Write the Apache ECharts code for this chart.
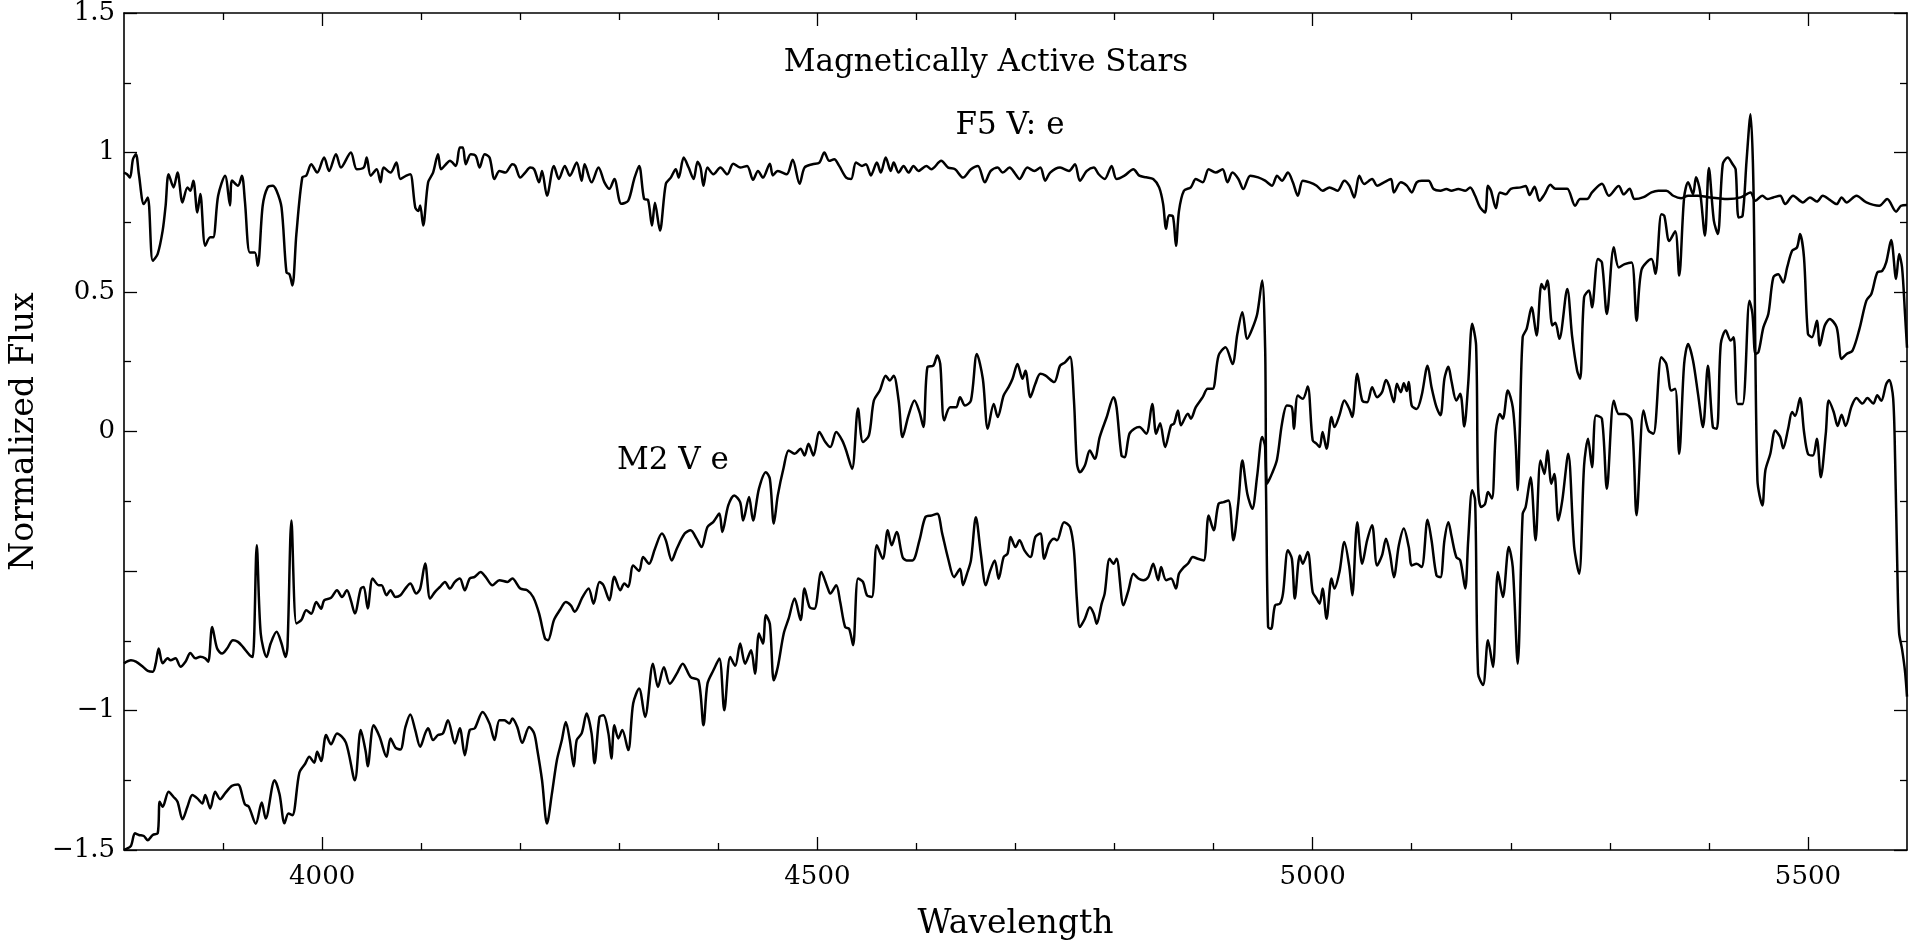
<!DOCTYPE html>
<html>
<head>
<meta charset="utf-8">
<script src="https://cdn.jsdelivr.net/npm/echarts@6/dist/echarts.min.js"></script>
<style>
html,body{margin:0;padding:0;background:#fff;}
#chart{width:1915px;height:949px;}
</style>
</head>
<body>
<div id="chart"></div>
<script>
// ---------- DATA ----------
const f5Wave = [3800,3803,3806,3809,3812,3815,3820,3824,3829,3834,3839,3842,3845,3850,3854,3859,3864,3867,3870,3874,3877,3882,3887,3890,3895,3902,3907,3909,3915,3919,3922,3927,3932,3935,3940,3945,3950,3954,3959,3964,3967,3970,3974,3980,3984,3989,3995,4002,4007,4014,4019,4029,4035,4042,4045,4049,4055,4059,4062,4069,4075,4079,4085,4089,4094,4097,4099,4102,4107,4112,4117,4120,4125,4129,4135,4139,4142,4145,4150,4155,4159,4164,4169,4174,4179,4185,4192,4195,4200,4205,4210,4214,4219,4222,4227,4234,4239,4245,4250,4257,4262,4265,4272,4279,4285,4290,4295,4302,4309,4315,4320,4325,4329,4333,4336,4341,4347,4352,4357,4360,4365,4370,4375,4379,4382,4385,4389,4395,4402,4409,4415,4422,4429,4435,4440,4445,4452,4455,4460,4469,4475,4482,4487,4495,4502,4507,4512,4517,4522,4529,4534,4539,4545,4549,4554,4560,4564,4569,4574,4577,4582,4587,4592,4597,4602,4610,4615,4625,4632,4639,4647,4655,4662,4669,4675,4682,4687,4694,4700,4704,4712,4719,4725,4730,4735,4745,4754,4760,4765,4772,4779,4784,4790,4797,4802,4810,4819,4825,4832,4839,4845,4849,4852,4855,4859,4862,4865,4870,4877,4882,4889,4895,4902,4909,4914,4919,4925,4930,4937,4945,4952,4959,4964,4969,4975,4980,4985,4990,4997,5004,5010,5017,5025,5032,5037,5042,5047,5052,5060,5065,5072,5079,5082,5089,5095,5100,5105,5110,5117,5122,5129,5135,5140,5147,5154,5159,5164,5169,5174,5177,5180,5185,5189,5195,5200,5210,5215,5219,5224,5229,5234,5240,5245,5252,5257,5265,5270,5277,5282,5292,5299,5309,5314,5320,5325,5334,5342,5349,5357,5364,5372,5379,5389,5399,5409,5419,5432,5442,5447,5454,5459,5465,5472,5477,5485,5495,5502,5509,5515,5522,5529,5534,5539,5549,5559,5572,5580,5589,5594,5600];
const f5Flux = [0.928,0.922,0.91,0.976,0.994,0.922,0.815,0.839,0.612,0.637,0.72,0.81,0.922,0.875,0.928,0.821,0.875,0.863,0.899,0.785,0.851,0.666,0.696,0.696,0.845,0.917,0.81,0.9,0.881,0.917,0.827,0.642,0.642,0.594,0.81,0.875,0.881,0.863,0.803,0.57,0.564,0.523,0.708,0.911,0.917,0.958,0.928,0.982,0.934,0.994,0.946,1.0,0.94,0.946,0.982,0.917,0.94,0.893,0.946,0.928,0.964,0.905,0.917,0.922,0.803,0.79,0.81,0.738,0.893,0.928,0.994,0.94,0.958,0.97,0.952,1.018,1.018,0.958,0.994,0.988,0.946,0.994,0.982,0.905,0.934,0.928,0.958,0.952,0.91,0.928,0.946,0.94,0.893,0.934,0.845,0.952,0.905,0.952,0.917,0.964,0.899,0.958,0.893,0.946,0.893,0.87,0.905,0.816,0.827,0.905,0.952,0.834,0.83,0.738,0.82,0.72,0.888,0.91,0.94,0.91,0.982,0.946,0.905,0.967,0.946,0.881,0.946,0.922,0.946,0.922,0.96,0.946,0.952,0.902,0.934,0.91,0.96,0.918,0.934,0.922,0.974,0.888,0.946,0.958,0.964,1.0,0.97,0.976,0.952,0.91,0.905,0.964,0.952,0.958,0.918,0.964,0.928,0.982,0.934,0.964,0.928,0.952,0.928,0.952,0.934,0.952,0.94,0.97,0.946,0.94,0.91,0.94,0.952,0.893,0.934,0.946,0.928,0.946,0.922,0.905,0.946,0.934,0.946,0.899,0.928,0.946,0.934,0.958,0.899,0.934,0.946,0.922,0.905,0.952,0.905,0.917,0.94,0.917,0.911,0.905,0.875,0.816,0.727,0.775,0.77,0.666,0.79,0.863,0.875,0.905,0.893,0.94,0.928,0.94,0.893,0.928,0.905,0.869,0.917,0.911,0.899,0.881,0.917,0.899,0.928,0.893,0.845,0.899,0.893,0.881,0.863,0.875,0.863,0.899,0.881,0.839,0.917,0.887,0.905,0.881,0.893,0.905,0.857,0.893,0.881,0.857,0.893,0.899,0.899,0.869,0.863,0.869,0.863,0.869,0.863,0.875,0.845,0.803,0.785,0.881,0.863,0.8,0.857,0.85,0.87,0.875,0.88,0.848,0.877,0.827,0.85,0.884,0.87,0.87,0.87,0.809,0.833,0.833,0.857,0.888,0.845,0.88,0.85,0.87,0.833,0.84,0.857,0.863,0.863,0.845,0.836,0.845,0.845,0.84,0.836,0.833,0.839,0.857,0.827,0.845,0.833,0.839,0.845,0.815,0.845,0.821,0.839,0.824,0.845,0.83,0.815,0.839,0.821,0.845,0.821,0.809,0.833,0.788,0.809,0.812];

const m2Wave = [3800,3807,3812,3819,3824,3829,3832,3835,3839,3844,3847,3852,3857,3862,3867,3872,3877,3882,3885,3889,3894,3899,3904,3910,3915,3920,3927,3930,3934,3938,3944,3948,3954,3959,3963,3965,3969,3974,3979,3984,3989,3994,3999,4002,4009,4015,4020,4025,4029,4033,4039,4042,4046,4051,4057,4060,4065,4069,4074,4079,4084,4089,4095,4099,4104,4109,4114,4119,4124,4129,4134,4139,4144,4149,4154,4160,4165,4172,4179,4187,4192,4200,4207,4213,4219,4225,4228,4234,4240,4246,4251,4255,4263,4269,4274,4280,4284,4290,4295,4301,4305,4309,4314,4320,4324,4330,4336,4343,4347,4353,4358,4366,4372,4378,4383,4389,4395,4401,4404,4410,4416,4422,4425,4431,4435,4441,4448,4452,4456,4460,4466,4471,4477,4483,4487,4491,4496,4502,4508,4513,4519,4525,4529,4535,4541,4546,4552,4557,4563,4569,4573,4577,4582,4586,4592,4598,4603,4607,4611,4617,4621,4624,4628,4634,4640,4644,4649,4655,4661,4667,4672,4678,4682,4688,4693,4697,4702,4707,4710,4715,4720,4725,4730,4739,4745,4750,4755,4759,4762,4765,4770,4775,4780,4785,4792,4799,4802,4807,4810,4815,4820,4825,4832,4838,4842,4846,4851,4857,4860,4864,4867,4874,4877,4882,4889,4894,4899,4905,4912,4919,4924,4929,4934,4939,4944,4949,4952,4954,4959,4964,4969,4974,4979,4981,4985,4990,4995,5000,5004,5007,5010,5014,5019,5022,5027,5032,5037,5040,5045,5050,5055,5060,5065,5070,5074,5077,5082,5085,5089,5092,5095,5097,5100,5105,5110,5116,5120,5125,5129,5133,5137,5140,5145,5149,5153,5157,5161,5165,5167,5170,5174,5177,5181,5185,5189,5192,5197,5202,5205,5207,5209,5212,5216,5221,5226,5231,5234,5237,5242,5245,5249,5257,5262,5267,5270,5274,5279,5282,5288,5292,5297,5304,5309,5315,5322,5327,5332,5342,5346,5352,5355,5360,5366,5370,5375,5379,5384,5387,5391,5396,5400,5405,5409,5414,5419,5424,5427,5430,5434,5438,5442,5445,5449,5454,5457,5462,5467,5472,5475,5480,5484,5487,5492,5496,5500,5505,5509,5513,5518,5521,5526,5530,5534,5538,5544,5549,5555,5560,5566,5570,5574,5579,5582,5586,5588,5590,5592,5595,5598,5600];
const m2Flux = [-0.831,-0.82,-0.825,-0.843,-0.858,-0.861,-0.831,-0.778,-0.831,-0.813,-0.82,-0.813,-0.843,-0.825,-0.794,-0.813,-0.807,-0.813,-0.825,-0.701,-0.778,-0.796,-0.778,-0.748,-0.754,-0.772,-0.802,-0.808,-0.408,-0.724,-0.808,-0.76,-0.718,-0.76,-0.808,-0.772,-0.319,-0.688,-0.676,-0.641,-0.653,-0.611,-0.635,-0.605,-0.596,-0.569,-0.593,-0.569,-0.605,-0.652,-0.563,-0.557,-0.634,-0.527,-0.551,-0.551,-0.587,-0.569,-0.593,-0.587,-0.563,-0.545,-0.581,-0.563,-0.473,-0.599,-0.575,-0.557,-0.539,-0.563,-0.539,-0.527,-0.569,-0.527,-0.521,-0.504,-0.521,-0.551,-0.533,-0.539,-0.527,-0.563,-0.569,-0.593,-0.652,-0.742,-0.748,-0.676,-0.64,-0.611,-0.623,-0.646,-0.593,-0.563,-0.617,-0.539,-0.551,-0.605,-0.521,-0.569,-0.545,-0.557,-0.48,-0.5,-0.45,-0.474,-0.42,-0.366,-0.39,-0.462,-0.42,-0.366,-0.354,-0.384,-0.414,-0.342,-0.324,-0.294,-0.36,-0.265,-0.229,-0.253,-0.319,-0.235,-0.319,-0.205,-0.146,-0.17,-0.33,-0.229,-0.128,-0.068,-0.08,-0.062,-0.086,-0.044,-0.086,-0.002,-0.038,-0.056,-0.002,-0.032,-0.068,-0.134,0.082,-0.038,-0.014,0.111,0.147,0.2,0.183,0.2,0.111,-0.02,0.058,0.111,0.07,0.016,0.23,0.236,0.272,0.242,0.04,0.087,0.087,0.123,0.093,0.111,0.278,0.189,0.01,0.099,0.052,0.129,0.159,0.189,0.242,0.189,0.218,0.123,0.171,0.207,0.201,0.177,0.236,0.248,0.268,0.111,-0.115,-0.146,-0.122,-0.068,-0.098,-0.02,0.051,0.123,0.087,-0.086,-0.092,-0.008,0.01,0.016,-0.008,0.099,-0.008,0.03,-0.056,0.022,0.028,0.075,0.022,0.064,0.046,0.087,0.123,0.153,0.153,0.272,0.302,0.242,0.35,0.427,0.332,0.368,0.421,0.541,0.3,-0.187,-0.15,-0.1,0.028,0.093,0.087,0.01,0.129,0.117,0.161,-0.032,-0.044,-0.056,-0.002,-0.062,0.052,0.016,0.058,0.111,0.081,0.052,0.207,0.111,0.105,0.159,0.123,0.141,0.185,0.165,0.105,0.171,0.141,0.173,0.145,0.177,0.093,0.081,0.129,0.236,0.159,0.087,0.058,0.189,0.232,0.183,0.111,0.135,0.018,0.171,0.386,0.308,-0.199,-0.271,-0.26,-0.217,-0.24,0.004,0.063,0.046,0.147,0.087,-0.05,-0.21,0.0,0.338,0.368,0.445,0.344,0.529,0.51,0.541,0.38,0.39,0.332,0.511,0.338,0.218,0.189,0.481,0.505,0.445,0.618,0.606,0.421,0.66,0.588,0.6,0.606,0.397,0.58,0.618,0.565,0.779,0.773,0.683,0.718,0.559,0.839,0.893,0.851,0.911,0.863,0.702,0.944,0.756,0.708,0.958,0.982,0.958,0.94,0.767,0.773,0.97,1.137,0.875,-0.175,-0.265,-0.14,-0.08,0.004,-0.02,-0.06,0.01,0.07,0.056,0.12,0.0,-0.08,-0.086,-0.026,-0.164,-0.008,0.111,0.07,0.02,0.06,0.02,0.09,0.12,0.1,0.12,0.1,0.13,0.11,0.17,0.185,0.12,-0.1,-0.45,-0.72,-0.78,-0.86,-0.95];

const lowWave = [3800,3802,3807,3811,3815,3820,3824,3829,3834,3836,3839,3845,3850,3854,3859,3864,3869,3874,3879,3882,3887,3892,3897,3902,3909,3915,3922,3926,3933,3939,3943,3952,3957,3962,3966,3970,3977,3983,3987,3992,3995,3999,4004,4009,4015,4024,4033,4039,4044,4046,4052,4058,4065,4069,4074,4079,4084,4089,4094,4099,4104,4107,4112,4117,4122,4127,4134,4139,4144,4149,4154,4162,4169,4174,4179,4184,4189,4192,4197,4202,4209,4214,4217,4222,4227,4232,4237,4242,4246,4250,4254,4257,4262,4267,4272,4275,4280,4284,4289,4292,4295,4299,4303,4309,4314,4320,4326,4334,4339,4345,4351,4358,4364,4372,4380,4385,4389,4395,4401,4406,4412,4417,4422,4427,4433,4437,4441,4445,4448,4452,4456,4460,4466,4471,4477,4483,4487,4492,4497,4504,4510,4513,4519,4523,4528,4532,4536,4541,4546,4550,4555,4560,4566,4571,4575,4580,4586,4590,4596,4603,4609,4615,4621,4626,4632,4638,4644,4647,4651,4655,4660,4665,4670,4674,4679,4683,4688,4692,4695,4700,4704,4709,4715,4720,4725,4729,4734,4739,4742,4749,4755,4759,4762,4765,4770,4775,4779,4782,4787,4790,4795,4799,4802,4809,4814,4819,4824,4829,4834,4839,4844,4847,4852,4857,4862,4865,4870,4874,4879,4884,4890,4895,4900,4905,4910,4915,4920,4925,4929,4934,4939,4944,4949,4952,4955,4958,4962,4967,4970,4975,4979,4982,4987,4990,4995,5000,5004,5007,5010,5014,5019,5022,5027,5032,5037,5040,5045,5050,5055,5060,5065,5070,5074,5078,5082,5087,5092,5097,5100,5105,5110,5116,5120,5125,5129,5133,5137,5140,5145,5149,5154,5157,5161,5164,5167,5172,5177,5182,5187,5192,5198,5202,5207,5212,5215,5220,5225,5230,5234,5237,5241,5244,5248,5252,5258,5264,5269,5274,5278,5282,5286,5292,5297,5304,5309,5315,5322,5327,5334,5339,5344,5352,5357,5362,5366,5370,5375,5379,5384,5389,5394,5399,5404,5408,5412,5417,5422,5425,5429,5434,5441,5444,5447,5450,5455,5460,5465,5470,5475,5479,5484,5489,5492,5496,5500,5504,5509,5512,5517,5522,5529,5534,5539,5545,5552,5559,5564,5570,5575,5579,5584,5589,5592,5595,5598,5600];
const lowFlux = [-1.5,-1.497,-1.485,-1.44,-1.446,-1.45,-1.465,-1.446,-1.44,-1.327,-1.345,-1.291,-1.31,-1.327,-1.39,-1.345,-1.303,-1.315,-1.333,-1.303,-1.351,-1.291,-1.318,-1.297,-1.27,-1.265,-1.336,-1.345,-1.406,-1.33,-1.387,-1.25,-1.3,-1.404,-1.369,-1.375,-1.223,-1.19,-1.166,-1.187,-1.148,-1.181,-1.088,-1.121,-1.082,-1.115,-1.25,-1.07,-1.148,-1.2,-1.053,-1.094,-1.166,-1.1,-1.133,-1.14,-1.06,-1.014,-1.07,-1.13,-1.082,-1.064,-1.106,-1.088,-1.082,-1.035,-1.118,-1.064,-1.16,-1.07,-1.064,-1.005,-1.047,-1.106,-1.035,-1.035,-1.047,-1.029,-1.059,-1.116,-1.059,-1.082,-1.136,-1.25,-1.405,-1.297,-1.178,-1.106,-1.041,-1.106,-1.2,-1.106,-1.082,-1.011,-1.082,-1.189,-1.023,-1.017,-1.082,-1.172,-1.053,-1.1,-1.07,-1.142,-0.975,-0.921,-1.023,-0.832,-0.916,-0.845,-0.904,-0.868,-0.832,-0.88,-0.892,-1.053,-0.904,-0.856,-0.814,-0.999,-0.808,-0.84,-0.76,-0.832,-0.784,-0.868,-0.724,-0.76,-0.659,-0.69,-0.892,-0.844,-0.724,-0.67,-0.599,-0.676,-0.563,-0.629,-0.635,-0.504,-0.557,-0.581,-0.551,-0.611,-0.701,-0.707,-0.766,-0.527,-0.539,-0.587,-0.593,-0.408,-0.456,-0.354,-0.408,-0.36,-0.45,-0.462,-0.462,-0.39,-0.307,-0.301,-0.295,-0.366,-0.456,-0.522,-0.492,-0.551,-0.51,-0.462,-0.307,-0.438,-0.551,-0.504,-0.462,-0.528,-0.45,-0.438,-0.378,-0.414,-0.39,-0.426,-0.45,-0.378,-0.366,-0.456,-0.402,-0.384,-0.39,-0.325,-0.342,-0.426,-0.605,-0.701,-0.671,-0.63,-0.653,-0.689,-0.617,-0.581,-0.456,-0.474,-0.456,-0.623,-0.569,-0.51,-0.527,-0.533,-0.522,-0.474,-0.533,-0.486,-0.533,-0.527,-0.563,-0.51,-0.486,-0.474,-0.45,-0.456,-0.462,-0.301,-0.354,-0.259,-0.253,-0.247,-0.39,-0.253,-0.104,-0.223,-0.277,-0.158,-0.02,-0.056,-0.701,-0.707,-0.623,-0.617,-0.581,-0.426,-0.456,-0.599,-0.444,-0.474,-0.432,-0.575,-0.599,-0.617,-0.563,-0.671,-0.527,-0.563,-0.504,-0.396,-0.486,-0.587,-0.325,-0.474,-0.39,-0.336,-0.48,-0.444,-0.384,-0.438,-0.522,-0.408,-0.348,-0.414,-0.48,-0.474,-0.486,-0.316,-0.39,-0.516,-0.522,-0.39,-0.325,-0.372,-0.45,-0.462,-0.563,-0.39,-0.211,-0.247,-0.868,-0.909,-0.748,-0.844,-0.504,-0.593,-0.414,-0.486,-0.832,-0.295,-0.271,-0.164,-0.39,-0.104,-0.152,-0.068,-0.187,-0.152,-0.319,-0.247,-0.08,-0.414,-0.51,-0.122,-0.026,-0.128,0.057,0.046,-0.205,0.11,0.063,0.063,0.039,-0.3,0.075,0.004,-0.008,0.266,0.242,0.147,0.153,-0.08,0.242,0.314,0.254,0.135,0.016,0.236,0.016,0.01,0.314,0.362,0.326,0.338,0.099,0.099,0.469,0.421,0.278,0.284,0.373,0.421,0.552,0.564,0.534,0.588,0.648,0.66,0.708,0.624,0.35,0.338,0.397,0.308,0.38,0.403,0.373,0.26,0.278,0.29,0.368,0.469,0.493,0.57,0.576,0.606,0.686,0.547,0.636,0.588,0.421,0.3];

const xMajorTicks = [4000, 4500, 5000, 5500];
const xMinorTicks = [3900, 4100, 4200, 4300, 4400, 4600, 4700, 4800, 4900, 5100, 5200, 5300, 5400];
const yHiddenLabels = [-0.5];
const titleText = 'Magnetically Active Stars';
const labelF5 = 'F5 V: e';
const labelM2 = 'M2 V e';
const xName = 'Wavelength';
const yName = 'Normalized Flux';

// ---------- CHART ----------
const FONT = 'DejaVu Serif';
const zip = (xs, ys) => xs.map((x, i) => [x, ys[i]]);
const chart = echarts.init(document.getElementById('chart'), null, {renderer: 'canvas'});

const lineStyleCommon = {color: '#000', width: 2.5};
function spec(name, xs, ys) {
  return {
    name, type: 'line', data: zip(xs, ys), showSymbol: false, symbol: 'none',
    smooth: 0.3, lineStyle: lineStyleCommon, xAxisIndex: 0, yAxisIndex: 0,
    animation: false, silent: true, z: 3
  };
}
const axisCol = '#000';
const xBase = {type: 'value', min: 3800, max: 5600, splitLine: {show: false}};

chart.setOption({
  backgroundColor: '#fff',
  animation: false,
  grid: {left: 108, right: 8, top: 12, bottom: 99, containLabel: false},
  xAxis: [
    Object.assign({}, xBase, {
      position: 'bottom',
      axisLine: {show: true, onZero: false, lineStyle: {color: axisCol, width: 1.6}},
      axisTick: {show: true, inside: true, length: 7, customValues: xMinorTicks, lineStyle: {color: axisCol, width: 1.3}},
      axisLabel: {show: true, customValues: xMajorTicks, color: '#000', fontFamily: FONT, fontSize: 26, margin: 14,
                  formatter: v => String(v)},
      name: xName, nameLocation: 'middle', nameGap: 58,
      nameTextStyle: {color: '#000', fontFamily: FONT, fontSize: 33}
    }),
    Object.assign({}, xBase, {
      position: 'bottom',
      axisLine: {show: false, onZero: false},
      axisTick: {show: true, inside: true, length: 13, customValues: xMajorTicks, lineStyle: {color: axisCol, width: 1.3}},
      axisLabel: {show: false}
    }),
    Object.assign({}, xBase, {
      position: 'top',
      axisLine: {show: true, onZero: false, lineStyle: {color: axisCol, width: 1.6}},
      axisTick: {show: true, inside: true, length: 7, customValues: xMinorTicks, lineStyle: {color: axisCol, width: 1.3}},
      axisLabel: {show: false}
    }),
    Object.assign({}, xBase, {
      position: 'top',
      axisLine: {show: false, onZero: false},
      axisTick: {show: true, inside: true, length: 13, customValues: xMajorTicks, lineStyle: {color: axisCol, width: 1.3}},
      axisLabel: {show: false}
    })
  ],
  yAxis: [
    {
      type: 'value', position: 'left', min: -1.5, max: 1.5, interval: 0.5,
      axisLine: {show: true, onZero: false, lineStyle: {color: axisCol, width: 1.6}},
      axisTick: {show: true, inside: true, length: 13, lineStyle: {color: axisCol, width: 1.3}},
      minorTick: {show: true, splitNumber: 2, length: 7, lineStyle: {color: axisCol, width: 1.3}},
      splitLine: {show: false}, minorSplitLine: {show: false},
      axisLabel: {
        color: '#000', fontFamily: FONT, fontSize: 26, margin: 9,
        formatter: v => yHiddenLabels.includes(v) ? '' : (v < 0 ? '\u2212' + Math.abs(v) : String(v))
      },
      name: yName, nameLocation: 'middle', nameGap: 68, nameRotate: 90,
      nameTextStyle: {color: '#000', fontFamily: FONT, fontSize: 33}
    },
    {
      type: 'value', position: 'right', min: -1.5, max: 1.5, interval: 0.5,
      axisLine: {show: true, onZero: false, lineStyle: {color: axisCol, width: 1.6}},
      axisTick: {show: true, inside: true, length: 13, lineStyle: {color: axisCol, width: 1.3}},
      minorTick: {show: true, splitNumber: 2, length: 7, lineStyle: {color: axisCol, width: 1.3}},
      splitLine: {show: false}, minorSplitLine: {show: false},
      axisLabel: {show: false}
    }
  ],
  series: [
    spec('F5 V: e', f5Wave, f5Flux),
    spec('M2 V e', m2Wave, m2Flux),
    spec('Lower', lowWave, lowFlux)
  ],
  graphic: [
    {type: 'text', x: 986, y: 63, style: {text: titleText, font: '31px "DejaVu Serif"', fill: '#000', textAlign: 'center', textVerticalAlign: 'middle'}},
    {type: 'text', x: 1010, y: 126, style: {text: labelF5, font: '31px "DejaVu Serif"', fill: '#000', textAlign: 'center', textVerticalAlign: 'middle'}},
    {type: 'text', x: 673, y: 461, style: {text: labelM2, font: '31px "DejaVu Serif"', fill: '#000', textAlign: 'center', textVerticalAlign: 'middle'}}
  ]
});
</script>
</body>
</html>
